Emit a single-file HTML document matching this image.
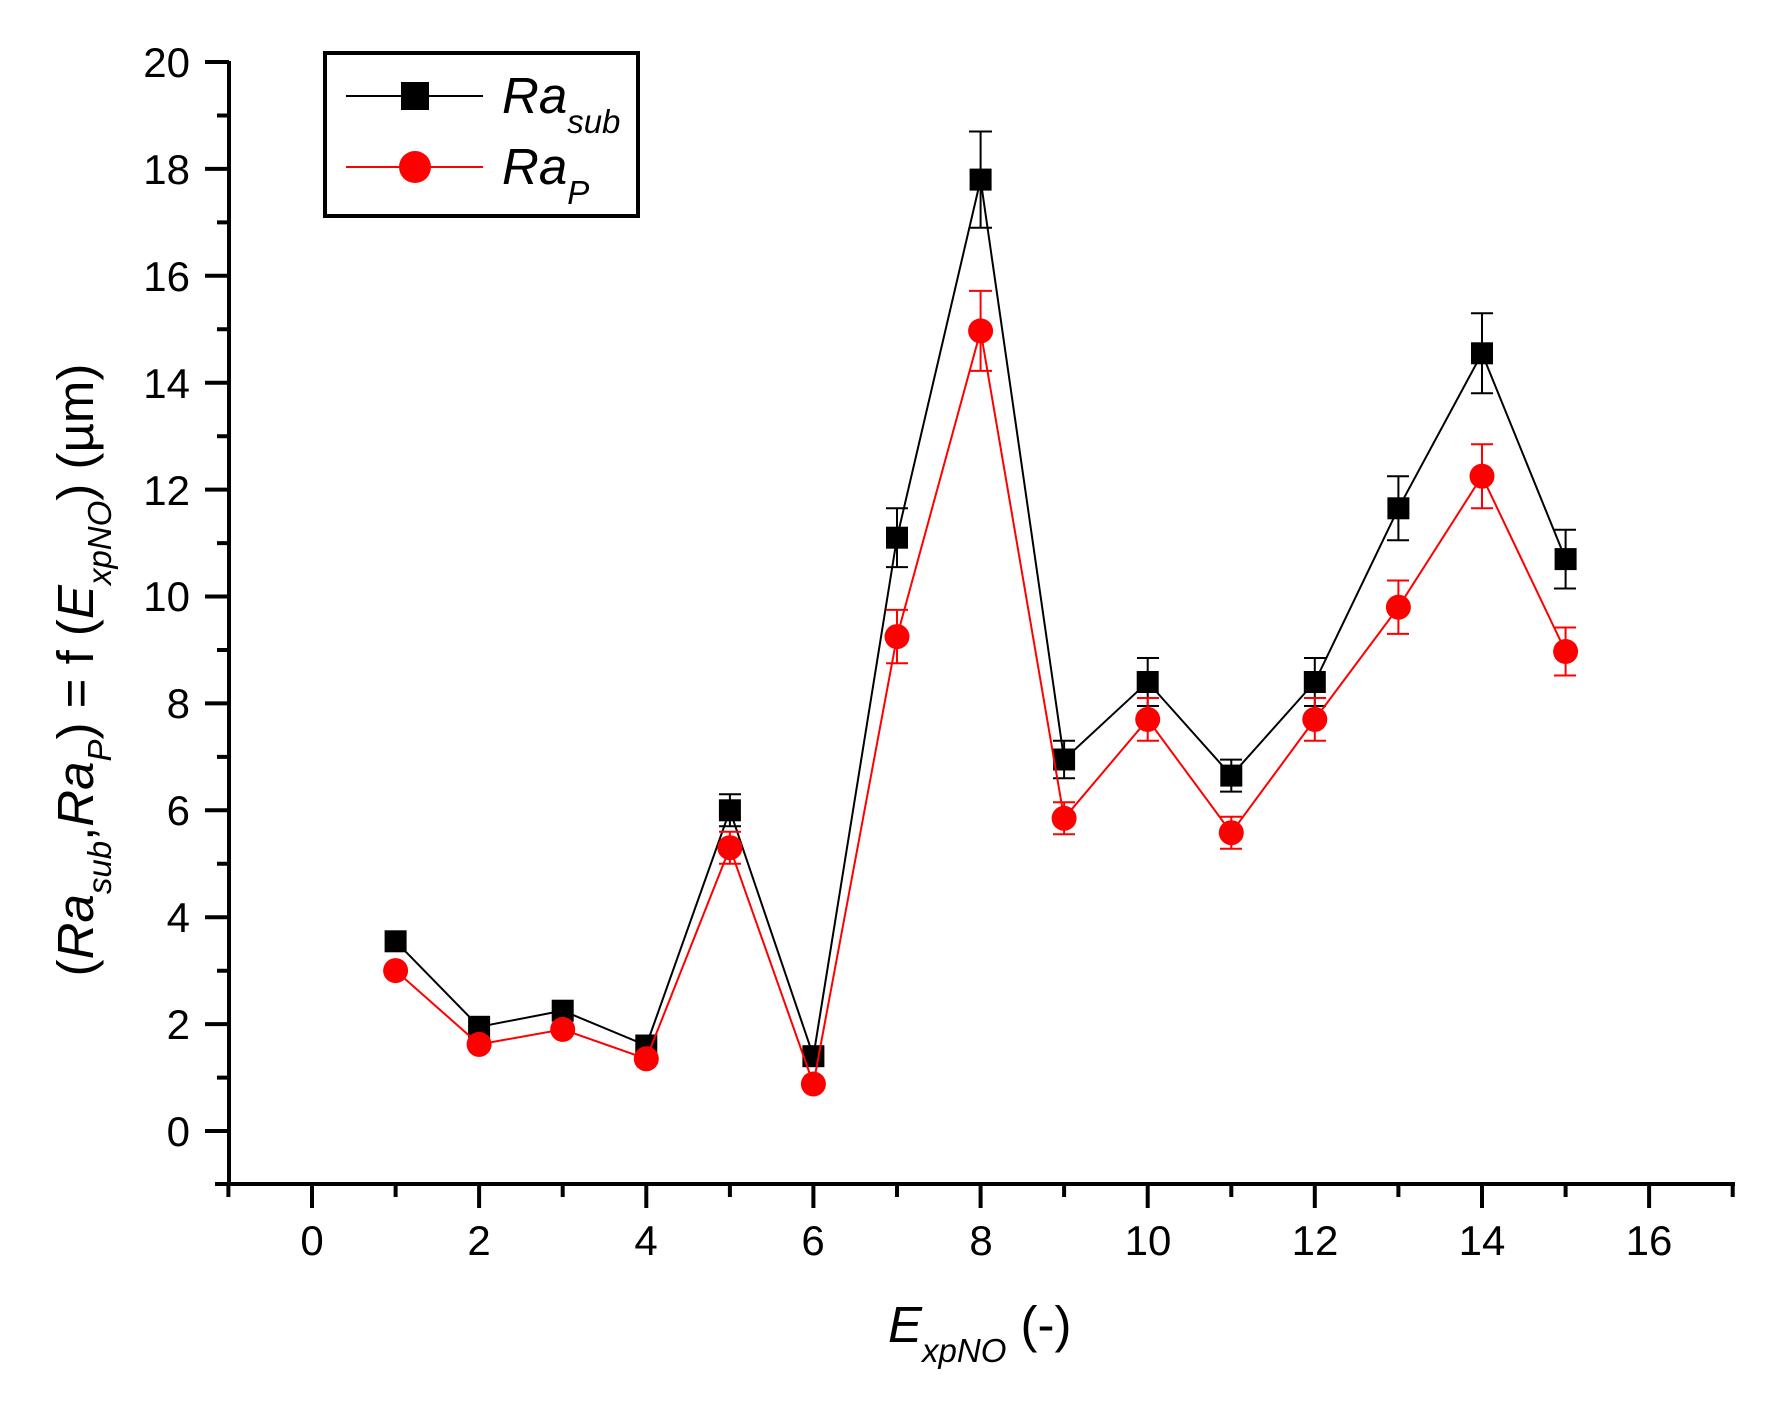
<!DOCTYPE html>
<html><head><style>body{margin:0;background:#fff}svg{display:block}text{font-family:"Liberation Sans",sans-serif}</style></head><body>
<svg width="1770" height="1405" xmlns="http://www.w3.org/2000/svg">
<g stroke="#000" stroke-width="4" fill="none">
<line x1="229" y1="61" x2="229" y2="1186"/>
<line x1="215" y1="1184" x2="1735" y2="1184"/>
<path d="M205 62H229M205 168.9H229M205 275.8H229M205 382.7H229M205 489.6H229M205 596.5H229M205 703.4H229M205 810.3H229M205 917.2H229M205 1024.1H229M205 1131H229"/>
<path d="M217 115.5H229M217 222.4H229M217 329.3H229M217 436.2H229M217 543.1H229M217 650H229M217 756.9H229M217 863.8H229M217 970.7H229M217 1077.6H229"/>
<path d="M312 1184V1208M479.1 1184V1208M646.3 1184V1208M813.4 1184V1208M980.6 1184V1208M1147.7 1184V1208M1314.8 1184V1208M1482 1184V1208M1649.1 1184V1208"/>
<path d="M228.4 1184V1197M395.6 1184V1197M562.7 1184V1197M729.9 1184V1197M897 1184V1197M1064.1 1184V1197M1231.3 1184V1197M1398.4 1184V1197M1565.6 1184V1197M1732.7 1184V1197"/>
</g>
<g font-size="42" text-anchor="end">
<text x="190" y="77">20</text><text x="190" y="184">18</text><text x="190" y="291">16</text><text x="190" y="398">14</text><text x="190" y="505">12</text><text x="190" y="611">10</text><text x="190" y="718">8</text><text x="190" y="825">6</text><text x="190" y="932">4</text><text x="190" y="1039">2</text><text x="190" y="1146">0</text>
</g>
<g font-size="42" text-anchor="middle">
<text x="312" y="1255">0</text><text x="479" y="1255">2</text><text x="646" y="1255">4</text><text x="813" y="1255">6</text><text x="981" y="1255">8</text><text x="1148" y="1255">10</text><text x="1315" y="1255">12</text><text x="1482" y="1255">14</text><text x="1649" y="1255">16</text>
</g>
<text x="888" y="1342" font-size="51"><tspan font-style="italic">E</tspan><tspan font-style="italic" font-size="33" dy="20">xpNO</tspan><tspan dy="-20">  (-)</tspan></text>
<text transform="translate(93,670) rotate(-90)" text-anchor="middle" font-size="51">(<tspan font-style="italic">Ra</tspan><tspan font-style="italic" font-size="33" dy="18">sub</tspan><tspan dy="-18">,</tspan><tspan font-style="italic">Ra</tspan><tspan font-style="italic" font-size="33" dy="18">P</tspan><tspan dy="-18">) = f (</tspan><tspan font-style="italic">E</tspan><tspan font-style="italic" font-size="33" dy="18">xpNO</tspan><tspan dy="-18">) (µm)</tspan></text>
<!-- legend -->
<rect x="325" y="53" width="313" height="163" fill="none" stroke="#000" stroke-width="4"/>
<line x1="346" y1="96" x2="483" y2="96" stroke="#000" stroke-width="2"/>
<rect x="401" y="82" width="28" height="28" fill="#000"/>
<line x1="346" y1="167" x2="483" y2="167" stroke="#f00" stroke-width="2"/>
<circle cx="415" cy="167" r="16" fill="#f00"/>
<text x="502" y="113" font-size="51" font-style="italic">Ra<tspan font-size="33" dy="20">sub</tspan></text>
<text x="502" y="184" font-size="51" font-style="italic">Ra<tspan font-size="33" dy="20">P</tspan></text>
<!-- sub series -->
<g stroke="#000" stroke-width="2" fill="none">
<polyline points="395.6,941.3 479.1,1026.8 562.7,1010.7 646.3,1045.5 729.9,810.3 813.4,1056.2 897,537.7 980.6,179.6 1064.1,759.5 1147.7,682 1231.3,775.6 1314.8,682 1398.4,508.3 1482,353.3 1565.6,559.1"/>
<path d="M729.9 794.3V826.3M719 794.3H741M719 826.3H741
M897 508.3V567.1M886 508.3H908M886 567.1H908
M980.6 131.5V227.7M969 131.5H992M969 227.7H992
M1064.1 740.8V778.2M1053 740.8H1075M1053 778.2H1075
M1147.7 658V706M1137 658H1159M1137 706H1159
M1231.3 759.6V791.6M1220 759.6H1242M1220 791.6H1242
M1314.8 658V706M1304 658H1326M1304 706H1326
M1398.4 476.3V540.3M1387 476.3H1409M1387 540.3H1409
M1482 313.3V393.3M1471 313.3H1493M1471 393.3H1493
M1565.6 529.7V588.5M1554 529.7H1576M1554 588.5H1576"/>
</g>
<g fill="#000">
<rect x="384.6" y="930.3" width="22" height="22"/><rect x="468.1" y="1015.8" width="22" height="22"/><rect x="551.7" y="999.7" width="22" height="22"/><rect x="635.3" y="1034.5" width="22" height="22"/><rect x="718.9" y="799.3" width="22" height="22"/><rect x="802.4" y="1045.2" width="22" height="22"/><rect x="886" y="526.7" width="22" height="22"/><rect x="969.6" y="168.6" width="22" height="22"/><rect x="1053.1" y="748.5" width="22" height="22"/><rect x="1136.7" y="671" width="22" height="22"/><rect x="1220.3" y="764.6" width="22" height="22"/><rect x="1303.8" y="671" width="22" height="22"/><rect x="1387.4" y="497.3" width="22" height="22"/><rect x="1471" y="342.3" width="22" height="22"/><rect x="1554.6" y="548.1" width="22" height="22"/>
</g>
<!-- P series -->
<g stroke="#f00" stroke-width="2" fill="none">
<polyline points="395.6,970.6 479.1,1044.4 562.7,1029.4 646.3,1058.8 729.9,847.7 813.4,1084 897,636.6 980.6,330.9 1064.1,818.3 1147.7,719.4 1231.3,832.7 1314.8,719.4 1398.4,607.2 1482,476.2 1565.6,651.5"/>
<path d="M729.9 831.7V863.7M719 831.7H741M719 863.7H741
M897 609.9V663.3M886 609.9H908M886 663.3H908
M980.6 290.9V370.9M969 290.9H992M969 370.9H992
M1064.1 802.3V834.3M1053 802.3H1075M1053 834.3H1075
M1147.7 698V740.8M1137 698H1159M1137 740.8H1159
M1231.3 816.7V848.7M1220 816.7H1242M1220 848.7H1242
M1314.8 698V740.8M1304 698H1326M1304 740.8H1326
M1398.4 580.5V633.9M1387 580.5H1409M1387 633.9H1409
M1482 444.2V508.2M1471 444.2H1493M1471 508.2H1493
M1565.6 627.5V675.5M1554 627.5H1576M1554 675.5H1576"/>
</g>
<g fill="#f00">
<circle cx="395.6" cy="970.6" r="12.5"/><circle cx="479.1" cy="1044.4" r="12.5"/><circle cx="562.7" cy="1029.4" r="12.5"/><circle cx="646.3" cy="1058.8" r="12.5"/><circle cx="729.9" cy="847.7" r="12.5"/><circle cx="813.4" cy="1084" r="12.5"/><circle cx="897" cy="636.6" r="12.5"/><circle cx="980.6" cy="330.9" r="12.5"/><circle cx="1064.1" cy="818.3" r="12.5"/><circle cx="1147.7" cy="719.4" r="12.5"/><circle cx="1231.3" cy="832.7" r="12.5"/><circle cx="1314.8" cy="719.4" r="12.5"/><circle cx="1398.4" cy="607.2" r="12.5"/><circle cx="1482" cy="476.2" r="12.5"/><circle cx="1565.6" cy="651.5" r="12.5"/>
</g>
</svg>
</body></html>
